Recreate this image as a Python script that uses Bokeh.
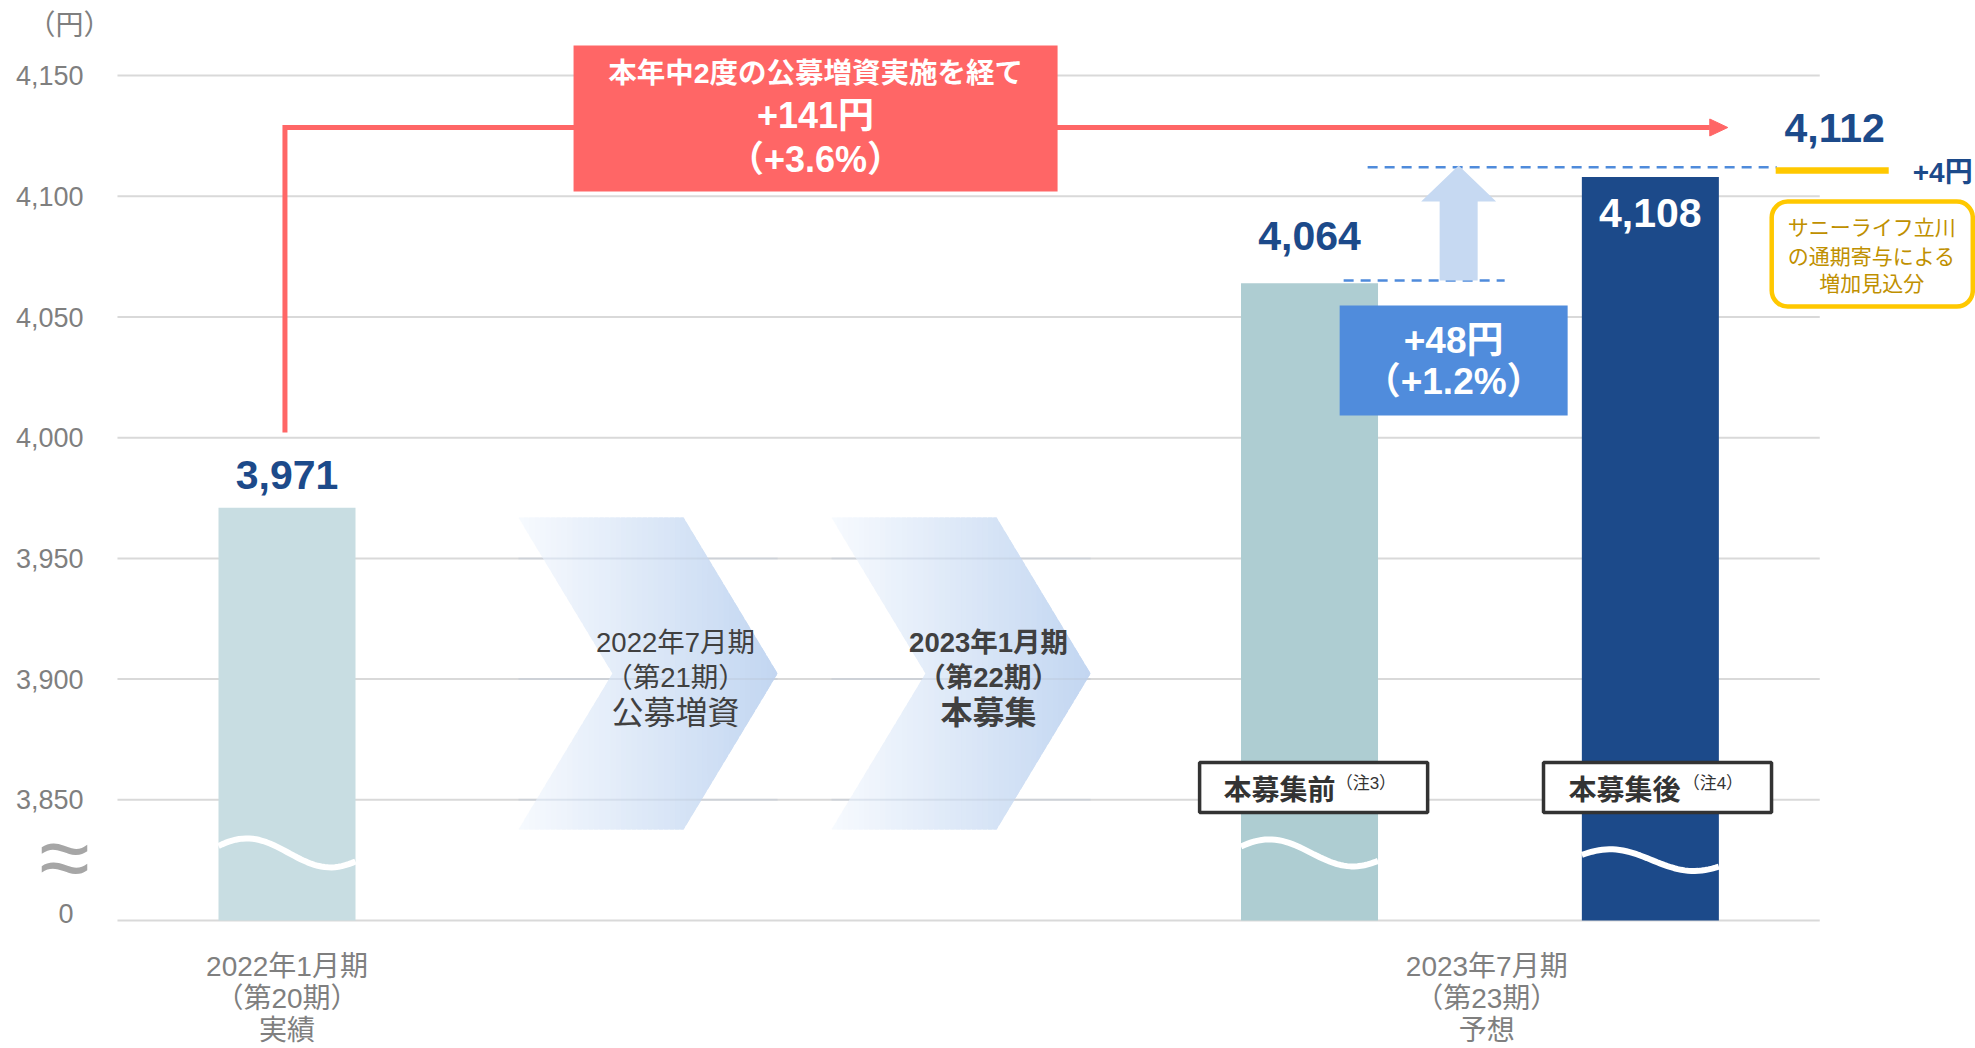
import math
from bokeh.plotting import figure
from bokeh.models import Range1d, FixedTicker, BoxAnnotation
from bokeh.core.properties import value
from bokeh.embed import file_html
from bokeh.resources import INLINE

# ---------------- data ----------------
period_labels = ["2022年1月期\n（第20期）\n実績", "2023年7月期\n（第23期）\n予想"]
period_slots = [0, 3.52]
bar_names = ["2022年1月期 実績", "本募集前", "本募集後"]
bar_values = [3971, 4064, 4108]
bar_slots = [0, 3, 4]
bar_colors = ["#C8DDE2", "#AECDD2", "#1C4A8A"]
forecast_total = 4112
y_ticks = [3850, 3900, 3950, 4000, 4050, 4100, 4150]
axis_zero = 3800
step_lines = [["2022年7月期", "（第21期）", "公募増資"], ["2023年1月期", "（第22期）", "本募集"]]
step_bold = [False, True]
red_texts = ["本年中2度の公募増資実施を経て", "+141円", "（+3.6%）"]
blue_texts = ["+48円", "（+1.2%）"]
yellow_texts = ["サニーライフ立川", "の通期寄与による", "増加見込分"]
box_labels = ["本募集前", "本募集後"]
box_notes = ["（注3）", "（注4）"]

# ---------------- style ----------------
FONT = "Liberation Sans, Noto Sans CJK JP"
NAVY = "#1C4A8A"
RED = "#FF6666"
GRID = "#D9D9D9"
GRAY = "#7F7F7F"
X0 = -0.49736  # left end of plotting region (slot units)

p = figure(width=1975, height=1048, output_backend="svg", toolbar_location=None,
           x_range=Range1d(-0.84057, 4.95392), y_range=Range1d(3746.98, 4181.11),
           min_border_left=0, min_border_right=0, min_border_top=0, min_border_bottom=0)
p.outline_line_color = None
p.xgrid.visible = False
p.ygrid.visible = False

p.yaxis.fixed_location = X0
p.yaxis.ticker = FixedTicker(ticks=y_ticks)
p.yaxis.major_label_overrides = {t: f"{t:,}" for t in y_ticks}
p.yaxis.axis_line_color = None
p.yaxis.major_tick_line_color = None
p.yaxis.minor_tick_line_color = None
p.yaxis.major_tick_out = 0
p.yaxis.major_tick_in = 0
p.yaxis.major_label_standoff = 34
p.yaxis.major_label_text_font = FONT
p.yaxis.major_label_text_font_size = "27px"
p.yaxis.major_label_text_color = GRAY

p.xaxis.fixed_location = axis_zero
p.xaxis.ticker = FixedTicker(ticks=period_slots)
p.xaxis.major_label_overrides = {s: l for s, l in zip(period_slots, period_labels)}
p.xaxis.axis_line_color = None
p.xaxis.major_tick_line_color = None
p.xaxis.minor_tick_line_color = None
p.xaxis.major_tick_out = 0
p.xaxis.major_tick_in = 0
p.xaxis.major_label_standoff = 30
p.xaxis.major_label_text_font = FONT
p.xaxis.major_label_text_font_size = "28px"
p.xaxis.major_label_text_color = GRAY
p.xaxis.major_label_text_line_height = 1.045

# gridlines (limited to the plotting region)
grid_vals = [axis_zero] + y_ticks
p.segment(x0=[X0] * len(grid_vals), x1=[4.497] * len(grid_vals), y0=grid_vals, y1=grid_vals,
          line_color=GRID, line_width=2)

# axis extras: zero label, break mark and unit
p.text(x=[-0.6265], y=[3802.9], text=["0"], text_font=value(FONT), text_font_size="27px",
       text_color=GRAY, text_align="right", text_baseline="middle")
p.text(x=[-0.6529], y=[3826.5], text=["≈"], text_font=value(FONT), text_font_size="92px",
       text_color="#A6A6A6", text_align="center", text_baseline="middle")
p.text(x=[-0.6382], y=[4170.8], text=["（円）"], text_font=value(FONT), text_font_size="28px",
       text_color=GRAY, text_align="center", text_baseline="middle")

# ---------------- chevrons with horizontal gradient ----------------
def clip_half(poly, x0, keep_greater):
    out = []
    n = len(poly)
    for i in range(n):
        cur, prev = poly[i], poly[i - 1]
        cin = cur[0] >= x0 if keep_greater else cur[0] <= x0
        pin = prev[0] >= x0 if keep_greater else prev[0] <= x0
        if cin:
            if not pin:
                t = (x0 - prev[0]) / (cur[0] - prev[0])
                out.append((x0, prev[1] + t * (cur[1] - prev[1])))
            out.append(cur)
        elif pin:
            t = (x0 - prev[0]) / (cur[0] - prev[0])
            out.append((x0, prev[1] + t * (cur[1] - prev[1])))
    return out

chev_left = [0.6793, 1.5977]
CH_W, CH_SH, CH_NOTCH = 0.760, 0.4841, 0.2758
CH_TOP, CH_BOT, CH_MID = 3966.9, 3837.7, 3902.3
c0 = (247, 250, 254)
c1 = (194, 214, 241)
NS = 48
sx, sy, sc = [], [], []
for L in chev_left:
    poly = [(L, CH_TOP), (L + CH_SH, CH_TOP), (L + CH_W, CH_MID), (L + CH_SH, CH_BOT),
            (L, CH_BOT), (L + CH_NOTCH, CH_MID)]
    step = CH_W / NS
    for i in range(NS):
        a = L + step * i
        b = min(L + CH_W, a + step * 1.8)
        part = clip_half(clip_half(poly, a, True), b, False)
        if len(part) < 3:
            continue
        t = (i + 0.5) / NS
        col = "#%02x%02x%02x" % tuple(int(round(c0[k] + (c1[k] - c0[k]) * t)) for k in range(3))
        sx.append([q[0] for q in part])
        sy.append([q[1] for q in part])
        sc.append(col)
p.patches(sx, sy, fill_color=sc, line_color=None)
# faint gridlines visible through the chevrons
for L in chev_left:
    gv = [g for g in grid_vals if CH_BOT < g < CH_TOP]
    p.segment(x0=[L] * len(gv), x1=[L + CH_W] * len(gv), y0=gv, y1=gv, line_color="#B8C4D4",
              line_width=2, line_alpha=0.35)

for L, lines, bold in zip(chev_left, step_lines, step_bold):
    cx = L + 0.4607
    st = "bold" if bold else "normal"
    for txt, yy, fs in zip(lines, [3915.0, 3900.8, 3886.1], ["27.5px", "27.5px", "32px"]):
        p.text(x=[cx], y=[yy], text=[txt], text_font=value(FONT), text_font_size=fs,
               text_font_style=st, text_color="#404040", text_align="center", text_baseline="middle")

# ---------------- red connector ----------------
RED_Y = 4128.5
p.line(x=[bar_slots[0] - 0.006, bar_slots[0] - 0.006, 4.1743], y=[4002.2, RED_Y, RED_Y], line_color=RED,
       line_width=5, line_join="miter")
p.patch(x=[4.1743, 4.2271, 4.1743], y=[RED_Y + 3.52, RED_Y, RED_Y - 3.52], fill_color=RED, line_color=RED)

# ---------------- bars ----------------
BW = 0.402
p.vbar(x=bar_slots, top=bar_values, bottom=axis_zero, width=BW, fill_color=bar_colors, line_color=None)

# break-mark waves
wave_mid = [3828, 3828, 3825]
wave_amp = [6.0, 5.6, 4.5]
for xs_, m, a in zip(bar_slots, wave_mid, wave_amp):
    us = [i / 40 for i in range(41)]
    p.line(x=[xs_ - BW / 2 + u * BW for u in us],
           y=[m + a * math.sin(2 * math.pi * (0.08 + 0.82 * u)) for u in us],
           line_color="white", line_width=6)

# value labels
p.text(x=[bar_slots[0], bar_slots[1]], y=[3984.6, 4083.4],
       text=[f"{bar_values[0]:,}", f"{bar_values[1]:,}"], text_font=value(FONT), text_font_size="41px",
       text_font_style="bold", text_color=NAVY, text_align="center", text_baseline="middle")
p.text(x=[bar_slots[2]], y=[4092.9], text=[f"{bar_values[2]:,}"], text_font=value(FONT),
       text_font_size="41px", text_font_style="bold", text_color="white", text_align="center",
       text_baseline="middle")
p.text(x=[4.5408], y=[4128.1], text=[f"{forecast_total:,}"], text_font=value(FONT),
       text_font_size="41px", text_font_style="bold", text_color=NAVY, text_align="center",
       text_baseline="middle")

# ---------------- dashed guides + up arrow ----------------
DASH = "#4F8BDB"
p.segment(x0=[3.1001, 3.1705], x1=[3.5725, 4.3706], y0=[4065.1, forecast_total], y1=[4065.1, forecast_total],
          line_color=DASH, line_width=2.5, line_dash="10 7")
AX = 3.4375
p.patch(x=[AX - 0.0558, AX - 0.0558, AX - 0.110, AX, AX + 0.110, AX + 0.0558, AX + 0.0558],
        y=[4065.1, 4097.8, 4097.8, 4112.8, 4097.8, 4097.8, 4065.1],
        fill_color="#C6D9F2", line_color=None)

# blue box
p.quad(left=[3.0884], right=[3.7573], top=[4054.8], bottom=[4009.2], fill_color="#508CDC", line_color=None)
p.text(x=[3.4228, 3.4228], y=[4040.2, 4023.2], text=blue_texts, text_font=value(FONT),
       text_font_size="37px", text_font_style="bold", text_color="white", text_align="center",
       text_baseline="middle")

# ---------------- red box ----------------
p.quad(left=[0.8407], right=[2.2608], top=[4162.5], bottom=[4102.0], fill_color=RED, line_color=None)
for txt, yy, fs in zip(red_texts, [4150.9, 4133.5, 4115.2], ["28.5px", "36px", "36px"]):
    p.text(x=[1.5508], y=[yy], text=[txt], text_font=value(FONT), text_font_size=fs,
           text_font_style="bold", text_color="white", text_align="center", text_baseline="middle")

# ---------------- label boxes ----------------
box_cx = [3.012, 4.021]
p.rect(x=box_cx, y=[3855.1, 3855.1], width=0.669, height=20.7, fill_color="white",
       line_color="#333333", line_width=3.5)
p.text(x=[2.7479, 3.7597], y=[3853.9, 3853.9], text=box_labels, text_font=value(FONT),
       text_font_size="28px", text_font_style="bold", text_color="#333333", text_align="left",
       text_baseline="middle")
p.text(x=[3.0766, 4.0947], y=[3856.8, 3856.8], text=box_notes, text_font=value(FONT),
       text_font_size="17px", text_color="#333333", text_align="left", text_baseline="middle")

# ---------------- yellow increment ----------------
p.quad(left=[4.3677], right=[4.6993], top=[forecast_total], bottom=[4109.3], fill_color="#FFC800", line_color=None)
p.text(x=[4.8577], y=[4109.7], text=[f"+{forecast_total - bar_values[2]}円"], text_font=value(FONT),
       text_font_size="28px", text_font_style="bold", text_color=NAVY, text_align="center",
       text_baseline="middle")
p.add_layout(BoxAnnotation(left=4.356, right=4.946, top=4097.8, bottom=4054.3, fill_color="white",
                           fill_alpha=1.0, line_color="#FFC800", line_width=4.5, line_alpha=1.0,
                           border_radius=16))
p.text(x=[4.6494] * 3, y=[4087.1, 4075.1, 4063.9], text=yellow_texts, text_font=value(FONT),
       text_font_size="21px", text_color="#BF9000", text_align="center", text_baseline="middle",
       level="overlay")

open("out.html", "w").write(file_html(p, INLINE))
